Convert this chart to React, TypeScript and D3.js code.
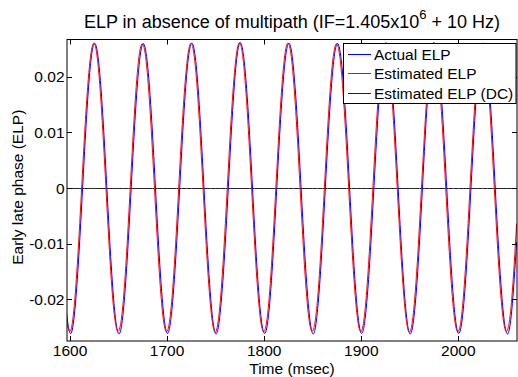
import React, { useEffect, useRef } from "react";
import * as d3 from "d3";

const times = [
  1595,
  1600, 1605, 1610, 1615, 1620, 1625, 1630, 1635, 1640, 1645,
  1650, 1655, 1660, 1665, 1670, 1675, 1680, 1685, 1690, 1695,
  1700, 1705, 1710, 1715, 1720, 1725, 1730, 1735, 1740, 1745,
  1750, 1755, 1760, 1765, 1770, 1775, 1780, 1785, 1790, 1795,
  1800, 1805, 1810, 1815, 1820, 1825, 1830, 1835, 1840, 1845,
  1850, 1855, 1860, 1865, 1870, 1875, 1880, 1885, 1890, 1895,
  1900, 1905, 1910, 1915, 1920, 1925, 1930, 1935, 1940, 1945,
  1950, 1955, 1960, 1965, 1970, 1975, 1980, 1985, 1990, 1995,
  2000, 2005, 2010, 2015, 2020, 2025, 2030, 2035, 2040, 2045,
  2050, 2055, 2060,
];

const actualELP = [
  -0.0201,
  -0.0261, -0.0219, -0.0095, 0.0066, 0.0201, 0.026, 0.0218, 0.0095, -0.0066, -0.0201,
  -0.0262, -0.022, -0.0096, 0.0064, 0.0199, 0.0259, 0.0219, 0.0097, -0.0064, -0.0199,
  -0.0261, -0.0218, -0.0095, 0.0065, 0.02, 0.026, 0.022, 0.0096, -0.0065, -0.02,
  -0.0262, -0.0219, -0.0097, 0.0064, 0.0201, 0.0261, 0.0218, 0.0095, -0.0066, -0.0201,
  -0.0261, -0.022, -0.0096, 0.0066, 0.02, 0.026, 0.0219, 0.0096, -0.0064, -0.0199,
  -0.0262, -0.0219, -0.0095, 0.0065, 0.0199, 0.0259, 0.022, 0.0097, -0.0065, -0.02,
  -0.0261, -0.0218, -0.0096, 0.0064, 0.02, 0.0261, 0.0219, 0.0095, -0.0066, -0.0201,
  -0.0262, -0.022, -0.0097, 0.0066, 0.0201, 0.026, 0.0218, 0.0096, -0.0064, -0.02,
  -0.0261, -0.0219, -0.0096, 0.0065, 0.02, 0.026, 0.0219, 0.0096, -0.0065, -0.0199,
  -0.0262, -0.022, -0.0097,
];

const estimatedELP = [
  -0.0219,
  -0.0258, -0.0199, -0.0064, 0.0096, 0.0219, 0.026, 0.02, 0.0065, -0.0095, -0.0218,
  -0.0257, -0.02, -0.0065, 0.0095, 0.022, 0.0259, 0.0199, 0.0064, -0.0096, -0.0219,
  -0.0258, -0.0198, -0.0063, 0.0097, 0.0218, 0.026, 0.0201, 0.0066, -0.0094, -0.0217,
  -0.0259, -0.0199, -0.0064, 0.0096, 0.0219, 0.0261, 0.02, 0.0065, -0.0095, -0.0218,
  -0.0258, -0.02, -0.0065, 0.0095, 0.022, 0.026, 0.0199, 0.0064, -0.0096, -0.0219,
  -0.0257, -0.0199, -0.0064, 0.0096, 0.0219, 0.0259, 0.02, 0.0066, -0.0095, -0.0218,
  -0.0258, -0.0198, -0.0063, 0.0097, 0.0218, 0.026, 0.0201, 0.0065, -0.0094, -0.0217,
  -0.0259, -0.02, -0.0065, 0.0095, 0.022, 0.0261, 0.0199, 0.0064, -0.0096, -0.0219,
  -0.0258, -0.0199, -0.0064, 0.0096, 0.0219, 0.026, 0.02, 0.0065, -0.0095, -0.0218,
  -0.0257, -0.0199, -0.0064,
];

const dcLevel = 0;

const xTicks = [1600, 1700, 1800, 1900, 2000];
const yTicks = [-0.02, -0.01, 0, 0.01, 0.02];
const yTickLabels = ["-0.02", "-0.01", "0", "0.01", "0.02"];
const legendLabels = ["Actual ELP", "Estimated ELP", "Estimated ELP (DC)"];
const legendColors = ["#0000ff", "#ff0000", "#222222"];

const W = 518;
const H = 377;
const M = { left: 67, right: 1, top: 39.5, bottom: 36 };
const FONT = "'Liberation Sans', Arial, Helvetica, sans-serif";
const FS = 15.5;

export default function App() {
  const ref = useRef<SVGSVGElement | null>(null);

  useEffect(() => {
    const svg = d3.select(ref.current);
    svg.selectAll("*").remove();

    const x = d3.scaleLinear().domain([1596.9, 2060.4]).range([M.left, W - M.right]);
    const y = d3.scaleLinear().domain([-0.0275, 0.0267]).range([H - M.bottom, M.top]);
    const x0 = M.left, x1 = W - M.right, y0 = M.top, y1 = H - M.bottom;

    svg.append("rect").attr("width", W).attr("height", H).attr("fill", "#fff");

    svg.append("defs").append("clipPath").attr("id", "plotclip")
      .append("rect").attr("x", x0).attr("y", y0).attr("width", x1 - x0).attr("height", y1 - y0);

    const g = svg.append("g").attr("clip-path", "url(#plotclip)");

    const line = (vals: number[]) =>
      d3.line<number>()
        .x((_, i) => x(times[i]))
        .y((d) => y(d))
        .curve(d3.curveNatural)(vals);

    const dcY = Math.round(y(dcLevel)) + 0.5;
    g.append("path")
      .attr("d", d3.line<number>().x((t) => x(t)).y(() => dcY)(times) as string)
      .attr("fill", "none").attr("stroke", legendColors[2]).attr("stroke-width", 1);

    g.append("path").attr("d", line(actualELP) as string)
      .attr("fill", "none").attr("stroke", legendColors[0]).attr("stroke-width", 1);
    g.append("path").attr("d", line(estimatedELP) as string)
      .attr("fill", "none").attr("stroke", legendColors[1]).attr("stroke-width", 1);

    svg.append("rect").attr("x", x0).attr("y", y0).attr("width", x1 - x0).attr("height", y1 - y0)
      .attr("fill", "none").attr("stroke", "#000").attr("stroke-width", 1);

    const tl = 5;
    xTicks.forEach((t) => {
      const px = Math.round(x(t)) + 0.5;
      svg.append("line").attr("x1", px).attr("x2", px).attr("y1", y1).attr("y2", y1 - tl).attr("stroke", "#000");
      svg.append("line").attr("x1", px).attr("x2", px).attr("y1", y0).attr("y2", y0 + tl).attr("stroke", "#000");
      svg.append("text").attr("x", x(t)).attr("y", 355.5).attr("text-anchor", "middle")
        .attr("font-family", FONT).attr("font-size", FS).attr("fill", "#000").text(String(t));
    });
    yTicks.forEach((v, i) => {
      const py = Math.round(y(v)) + 0.5;
      svg.append("line").attr("x1", x0).attr("x2", x0 + tl).attr("y1", py).attr("y2", py).attr("stroke", "#000");
      svg.append("line").attr("x1", x1).attr("x2", x1 - tl).attr("y1", py).attr("y2", py).attr("stroke", "#000");
      svg.append("text").attr("x", 64.5).attr("y", y(v) + 5.5).attr("text-anchor", "end")
        .attr("font-family", FONT).attr("font-size", FS).attr("fill", "#000").text(yTickLabels[i]);
    });

    svg.append("text").attr("x", (x0 + x1) / 2).attr("y", 373.5).attr("text-anchor", "middle")
      .attr("font-family", FONT).attr("font-size", FS).attr("fill", "#000").text("Time (msec)");

    svg.append("text").attr("transform", `translate(23,${(y0 + y1) / 2 - 3}) rotate(-90)`)
      .attr("text-anchor", "middle")
      .attr("font-family", FONT).attr("font-size", FS).attr("fill", "#000").text("Early late phase (ELP)");

    const title = svg.append("text").attr("x", (x0 + x1) / 2).attr("y", 28).attr("text-anchor", "middle")
      .attr("font-family", FONT).attr("font-size", 18).attr("fill", "#000");
    title.append("tspan").text("ELP in absence of multipath (IF=1.405x10");
    title.append("tspan").attr("dy", -9).attr("font-size", 13).text("6");
    title.append("tspan").attr("dy", 9).text(" + 10 Hz)");

    const lg = svg.append("g");
    const lx = 343.5, ly = 43.5, lw = 172.5, lh = 60;
    lg.append("rect").attr("x", lx).attr("y", ly).attr("width", lw).attr("height", lh)
      .attr("fill", "#fff").attr("stroke", "#000").attr("stroke-width", 1);
    const rowsY = [54.5, 73.5, 93.5];
    legendLabels.forEach((lab, i) => {
      lg.append("line").attr("x1", 348).attr("x2", 371).attr("y1", rowsY[i]).attr("y2", rowsY[i])
        .attr("stroke", legendColors[i]).attr("stroke-width", 1);
      lg.append("text").attr("x", 374).attr("y", rowsY[i] + 5.5)
        .attr("font-family", FONT).attr("font-size", FS).attr("fill", "#000").text(lab);
    });
  }, []);

  return (
    <svg ref={ref} width={W} height={H} style={{ position: "absolute", left: 0, top: 0 }} />
  );
}
